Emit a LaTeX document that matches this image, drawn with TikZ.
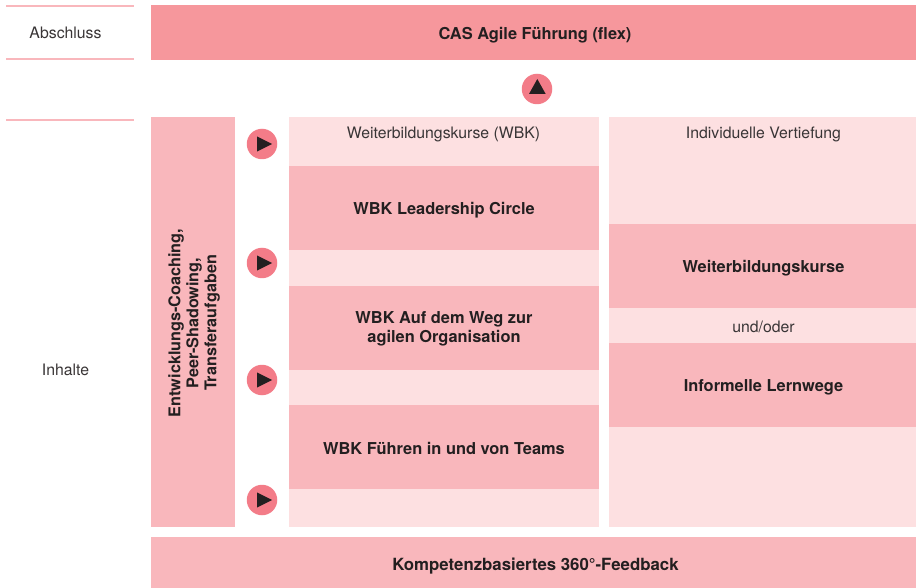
\documentclass[tikz,border=0pt]{standalone}
\usepackage{fontspec}
\setmainfont{TeX Gyre Heros}
\definecolor{headpink}{HTML}{F6979C}
\definecolor{midpink}{HTML}{F9B7BC}
\definecolor{lightpink}{HTML}{FDE0E1}
\definecolor{rulepink}{HTML}{F9B7BC}
\definecolor{dotpink}{HTML}{F37C88}
\definecolor{ink}{HTML}{231F20}
\newcommand{\bx}[7][]{\node[boxshape,fill=#7,minimum width=\fpeval{#4-#2}pt,minimum height=\fpeval{#5-#3}pt,#1] (#6) at (\fpeval{(#2+#4)/2},\fpeval{(#3+#5)/2}) {};}
\tikzset{
  boxshape/.style={rectangle,draw=none,inner sep=0pt,outer sep=0pt},
  plain/.style={font=\fontsize{15.8}{18}\selectfont,text=ink!90,align=center,inner sep=0pt},
  strong/.style={font=\fontsize{16.4}{19.5}\selectfont\bfseries,text=ink,align=center,inner sep=0pt},
  nudged/.style={yshift=-2.5pt},
  rulestyle/.style={draw=rulepink,line width=1.6pt},
  dot/.style={circle,fill=dotpink,minimum size=30.5pt,inner sep=0pt,outer sep=0pt},
  tri/.style={fill=ink,draw=none}
}
\begin{document}
\begin{tikzpicture}[x=1pt,y=-1pt]
\useasboundingbox (0,0) rectangle (916,588);
% left rules
\coordinate (r1a) at (6,6); \coordinate (r1b) at (134,6);
\coordinate (r2a) at (6,59); \coordinate (r2b) at (134,59);
\coordinate (r3a) at (6,120); \coordinate (r3b) at (134,120);
\draw[rulestyle] (r1a) -- (r1b);
\draw[rulestyle] (r2a) -- (r2b);
\draw[rulestyle] (r3a) -- (r3b);
\node[plain] (abschluss) at (65.5,32.5) {Abschluss};
\node[plain] (inhalte) at (65.5,369.5) {Inhalte};
% boxes
\bx{151}{5}{916}{60}{head}{headpink}
\bx{151}{117}{235}{527}{side}{midpink}
\bx{289}{117}{599}{527}{wbkbg}{lightpink}
\bx{609}{117}{916}{527}{vertbg}{lightpink}
\bx{289}{166}{599}{250}{wbka}{midpink}
\bx{289}{286}{599}{370}{wbkb}{midpink}
\bx{289}{405}{599}{489}{wbkc}{midpink}
\bx{609}{224}{916}{308}{vertA}{midpink}
\bx{609}{343}{916}{427}{vertB}{midpink}
\bx{151}{537}{916}{588}{foot}{midpink}
% labels
\node[strong,nudged,xshift=1.5pt] (headt) at (head) {CAS Agile Führung (flex)};
\node[font=\fontsize{16.2}{18}\selectfont\bfseries,text=ink,align=center,inner sep=0pt,rotate=90] (sidet) at (194,323) {Entwicklungs-Coaching,\\Peer-Shadowing,\\Transferaufgaben};
\node[plain] (wbkt) at (443.5,134) {Weiterbildungskurse (WBK)};
\node[plain] (vertt) at (763.5,134) {Individuelle Vertiefung};
\node[strong,nudged] (wbkat) at (wbka) {WBK Leadership Circle};
\node[strong,yshift=-1pt] (wbkbt) at (wbkb) {WBK Auf dem Weg zur\\agilen Organisation};
\node[strong,yshift=-1pt] (wbkct) at (wbkc) {WBK Führen in und von Teams};
\node[strong,nudged,xshift=1pt] (vertAt) at (vertA) {Weiterbildungskurse};
\node[plain] (undoder) at (763.5,326.5) {und/oder};
\node[strong,nudged,xshift=1pt] (vertBt) at (vertB) {Informelle Lernwege};
\node[strong,font=\fontsize{16.8}{19}\selectfont\bfseries,yshift=-4pt,xshift=2pt] (foott) at (foot) {Kompetenzbasiertes 360°-Feedback};
% markers
\node[dot] (up) at (537,89) {};
\fill[tri] (529,94) -- (545.7,94) -- (537.3,79) -- cycle;
\foreach \n/\yy in {m1/144,m2/263,m3/380,m4/500}{
  \node[dot] (\n) at (262,\yy) {};
  \fill[tri] (257,\yy-7.6) -- (272,\yy) -- (257,\yy+7.6) -- cycle;
}
\end{tikzpicture}
\end{document}
